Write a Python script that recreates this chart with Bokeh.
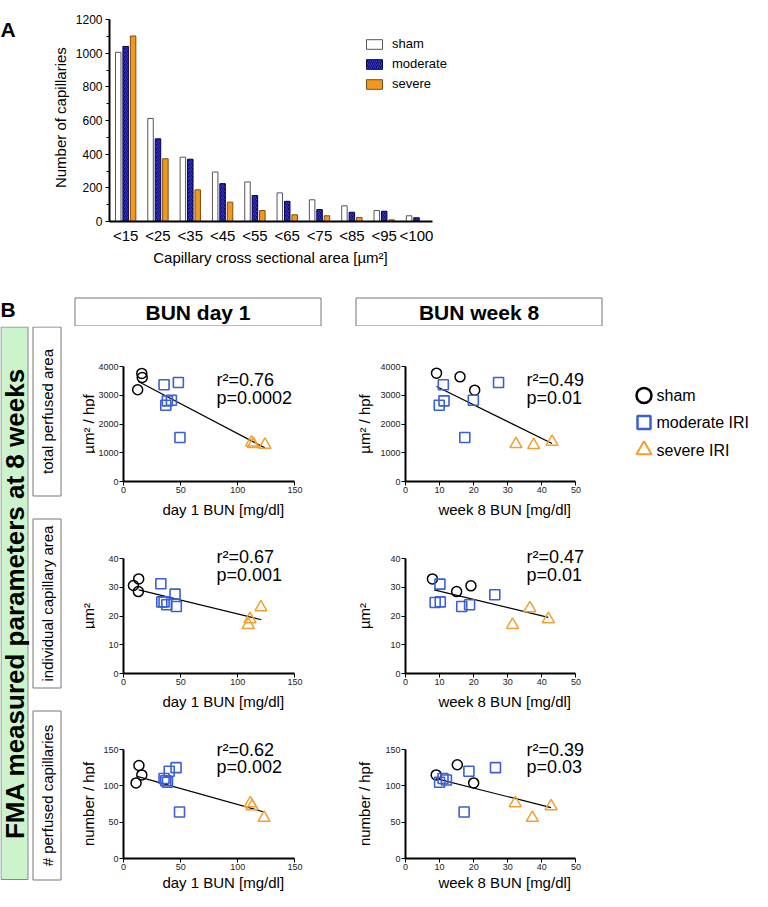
import numpy as np
from bokeh.plotting import figure
from bokeh.models import (ColumnDataSource, Range1d, FixedTicker,
                          SingleIntervalTicker, Legend, LegendItem, Label)
from bokeh.layouts import column, row
from bokeh.transform import dodge
from bokeh.core.properties import value
from bokeh.embed import file_html
from bokeh.resources import INLINE

FONT = "Liberation Sans"
BLUE = "#3a5fd8"
ORANGE = "#f0a030"

# ---------------- Panel A data ----------------
size_bins = ["<15", "<25", "<35", "<45", "<55", "<65", "<75", "<85", "<95", "<100"]
sham_counts = [1005, 612, 382, 294, 235, 170, 129, 93, 65, 34]
moderate_counts = [1040, 491, 370, 225, 154, 120, 71, 55, 61, 22]
severe_counts = [1102, 373, 188, 115, 65, 40, 34, 24, 10, 0]

# ---------------- Panel B data ----------------
# total perfused area vs day 1 BUN
tpa_d1_sham_x = [12.4, 16.0, 16.4]
tpa_d1_sham_y = [3190, 3760, 3617]
tpa_d1_mod_x = [35.5, 48.0, 38.4, 41.9, 37.0, 49.4]
tpa_d1_mod_y = [3363, 3443, 2806, 2828, 2654, 1530]
tpa_d1_sev_x = [112.0, 113.6, 123.7]
tpa_d1_sev_y = [1356, 1300, 1275]
tpa_d1_fit_x = [13.0, 123.7]
tpa_d1_fit_y = [3480, 1170]

# total perfused area vs week 8 BUN
tpa_w8_sham_x = [9.1, 16.0, 20.3]
tpa_w8_sham_y = [3768, 3641, 3176]
tpa_w8_mod_x = [11.1, 11.3, 9.9, 19.9, 27.3, 17.4]
tpa_w8_mod_y = [3363, 2806, 2654, 2828, 3443, 1530]
tpa_w8_sev_x = [32.4, 37.6, 43.0]
tpa_w8_sev_y = [1299, 1264, 1380]
tpa_w8_fit_x = [9.1, 43.0]
tpa_w8_fit_y = [3304, 1322]

# individual capillary area vs day 1 BUN
ica_d1_sham_x = [13.3, 8.7, 13.0]
ica_d1_sham_y = [32.9, 30.6, 28.5]
ica_d1_mod_x = [32.7, 33.5, 35.5, 37.9, 45.1, 46.2]
ica_d1_mod_y = [31.2, 24.9, 24.9, 23.9, 27.6, 23.3]
ica_d1_sev_x = [120.2, 110.7, 109.2]
ica_d1_sev_y = [23.0, 18.9, 16.9]
ica_d1_fit_x = [13.3, 120.5]
ica_d1_fit_y = [29.1, 18.7]

# individual capillary area vs week 8 BUN
ica_w8_sham_x = [7.9, 15.0, 19.2]
ica_w8_sham_y = [32.9, 28.5, 30.5]
ica_w8_mod_x = [10.1, 8.7, 10.2, 16.5, 18.8, 26.2]
ica_w8_mod_y = [31.1, 24.7, 24.9, 23.3, 23.9, 27.4]
ica_w8_sev_x = [31.4, 36.5, 41.9]
ica_w8_sev_y = [16.9, 22.7, 18.9]
ica_w8_fit_x = [8.4, 41.9]
ica_w8_fit_y = [29.1, 19.5]

# number of perfused capillaries vs day 1 BUN
npc_d1_sham_x = [11.0, 13.5, 16.0]
npc_d1_sham_y = [104, 128, 115]
npc_d1_mod_x = [35.5, 37.0, 38.5, 40.0, 46.0, 49.0]
npc_d1_mod_y = [110, 107, 105, 120, 125, 64]
npc_d1_sev_x = [111.0, 112.5, 123.0]
npc_d1_sev_y = [76, 72, 56]
npc_d1_fit_x = [12.0, 123.0]
npc_d1_fit_y = [113, 64]

# number of perfused capillaries vs week 8 BUN
npc_w8_sham_x = [9.0, 15.2, 20.0]
npc_w8_sham_y = [115, 129, 104]
npc_w8_mod_x = [10.0, 11.0, 12.0, 17.2, 18.6, 26.4]
npc_w8_mod_y = [105, 110, 108, 64, 120, 125]
npc_w8_sev_x = [32.2, 37.2, 42.7]
npc_w8_sev_y = [76, 56, 72]
npc_w8_fit_x = [9.0, 42.7]
npc_w8_fit_y = [110, 70]

stats = [("0.76", "0.0002"), ("0.49", "0.01"), ("0.67", "0.001"),
         ("0.47", "0.01"), ("0.62", "0.002"), ("0.39", "0.03")]

row_labels = ["total perfused area", "individual capillary area", "# perfused capillaries"]
y_labels = ["µm² / hpf", "µm²", "number / hpf"]
col_headers = ["BUN day 1", "BUN week 8"]
x_labels = ["day 1 BUN [mg/dl]", "week 8 BUN [mg/dl]"]
group_names = ["sham", "moderate IRI", "severe IRI"]


def canvas(w, h):
    p = figure(width=w, height=h, x_range=Range1d(0, w), y_range=Range1d(h, 0),
               output_backend="svg", toolbar_location=None, tools="", title=None,
               x_axis_type=None, y_axis_type=None, min_border=0)
    p.grid.visible = False
    p.outline_line_color = None
    return p


def put_text(p, x, y, txt, size, bold=False, angle=0.0, align="center", baseline="middle"):
    p.text(x=[x], y=[y], text=[txt], angle=angle, text_font=value(FONT),
           text_font_style="bold" if bold else "normal", text_font_size=size,
           text_align=align, text_baseline=baseline, text_color="black")


def style_axis(ax, tick_size="9px", tick_standoff=1):
    ax.axis_line_width = 2
    ax.axis_line_color = "black"
    ax.major_tick_out = 4
    ax.major_tick_in = 0
    ax.minor_tick_line_color = None
    ax.major_tick_line_color = "black"
    ax.major_label_text_font = FONT
    ax.major_label_text_font_size = tick_size
    ax.major_label_text_color = "#222"
    ax.major_label_standoff = tick_standoff


# ======================= Panel A =======================
decoA = canvas(72, 247)
put_text(decoA, 0, 12, "A", "21px", bold=True, align="left", baseline="alphabetic")
put_text(decoA, 60, 120, "Number of capillaries", "15px", angle=np.pi / 2)

n_bins = len(size_bins)
bin_pos = [i + 0.5 for i in range(n_bins)]
A_FRAME_W = 384          # frame widened to hold the legend; the axis is bounded to the bins
A_PLOT_W = 324
figA = figure(width=680, height=247, x_range=Range1d(0, n_bins * A_FRAME_W / A_PLOT_W),
              y_range=Range1d(0, 1200),
              output_backend="svg", toolbar_location=None, tools="", title=None,
              min_border_left=36, min_border_right=680 - 36 - A_FRAME_W,
              min_border_top=19, min_border_bottom=26)
figA.grid.visible = False
figA.outline_line_color = None
srcA = ColumnDataSource(dict(pos=bin_pos, sham=sham_counts,
                             moderate=moderate_counts, severe=severe_counts))
r_sham = figA.vbar(x=dodge("pos", -0.23), top="sham", width=0.17,
                   source=srcA, fill_color="white", line_color="#555", line_width=1)
r_mod = figA.vbar(x=dodge("pos", 0.0), top="moderate", width=0.17,
                  source=srcA, fill_color="#0d0d8c", line_color="#06064a", line_width=1,
                  hatch_pattern="/", hatch_color="#4848c8", hatch_scale=4, hatch_weight=0.8)
r_sev = figA.vbar(x=dodge("pos", 0.23), top="severe", width=0.17,
                  source=srcA, fill_color="#f5961e", line_color="#7a4f10", line_width=1)

figA.yaxis.ticker = SingleIntervalTicker(interval=200, num_minor_ticks=2)
style_axis(figA.yaxis[0], tick_size="12px", tick_standoff=3)
figA.yaxis.minor_tick_line_color = "black"
figA.yaxis.minor_tick_out = 3
figA.yaxis.minor_tick_in = 0
figA.yaxis.major_label_text_color = "black"
figA.xaxis.ticker = FixedTicker(ticks=bin_pos)
figA.xaxis.major_label_overrides = {pos: lab for pos, lab in zip(bin_pos, size_bins)}
figA.xaxis.bounds = (0, n_bins)
style_axis(figA.xaxis[0], tick_size="15px", tick_standoff=5)
figA.xaxis.major_tick_line_color = None
figA.xaxis.major_tick_out = 0
figA.xaxis.major_label_text_color = "black"

legA = Legend(items=[LegendItem(label="sham", renderers=[r_sham]),
                     LegendItem(label="moderate", renderers=[r_mod]),
                     LegendItem(label="severe", renderers=[r_sev])],
              location=(255, 130), padding=0, margin=0, spacing=5,
              glyph_width=20, glyph_height=12, label_height=12, label_standoff=8,
              label_text_font=FONT, label_text_font_size="13px", label_text_color="black",
              border_line_color=None, background_fill_alpha=0)
figA.add_layout(legA)

xlabA = canvas(752, 35)
put_text(xlabA, 108 + A_PLOT_W / 2, 10, "Capillary cross sectional area [µm²]", "15px")

panelA = column(row(decoA, figA), xlabA)

# ======================= Panel B =======================
headerB = canvas(752, 44)
put_text(headerB, 0, 27, "B", "21px", bold=True, align="left", baseline="alphabetic")
for x0, txt in zip([74, 355], col_headers):
    headerB.quad(left=[x0 + 0.5], right=[x0 + 246.5], top=[15.5], bottom=[43.5],
                 fill_color="white", line_color="#777", line_width=1)
    put_text(headerB, x0 + 123.5, 30, txt, "21px", bold=True)

ROW_H = [192, 192, 181]
PLOT_H = [115, 115, 109]        # pixel height of each plot's data region
FRAME_H = [155, 155, 148]       # frame extends upward to hold the r² / p texts
XLAB_H = [21, 21, 17]
XLAB_Y = [12, 12, 8]
row_tops = [0, 192, 384]
frame_centers = [row_tops[i] + FRAME_H[i] - PLOT_H[i] / 2 for i in range(3)]

decoB = canvas(95, 565)
decoB.quad(left=[0.5], right=[27.5], top=[0.5], bottom=[553],
           fill_color="#ccf4cc", line_color="#888", line_width=1)
put_text(decoB, 14, 277, "FMA measured parameters at 8 weeks", "26px", bold=True, angle=np.pi / 2)
for i, lab in enumerate(row_labels):
    top = 0.5 + 192 * i
    decoB.quad(left=[32.5], right=[60.5], top=[top], bottom=[top + 169],
               fill_color="white", line_color="#777", line_width=1)
    put_text(decoB, 47, top + 84.5, lab, "15px", angle=np.pi / 2)
    put_text(decoB, 87.5, frame_centers[i], y_labels[i], "15px", angle=np.pi / 2)

ylab2 = canvas(35, 565)
for i in range(3):
    put_text(ylab2, 22, frame_centers[i], y_labels[i], "15px", angle=np.pi / 2)


def scatter_panel(w, h, left, frame_w, frame_h, plot_w, plot_h, xmax, ymax, xt, yt,
                  sham, mod, sev, fit, st, lab_dx, lab_dy):
    bottom = h - frame_h
    p = figure(width=w, height=h,
               x_range=Range1d(0, xmax * frame_w / plot_w),
               y_range=Range1d(0, ymax * frame_h / plot_h),
               output_backend="svg", toolbar_location=None, tools="", title=None,
               min_border_left=left, min_border_right=w - left - frame_w,
               min_border_top=0, min_border_bottom=bottom)
    p.grid.visible = False
    p.outline_line_color = None
    p.xaxis.ticker = FixedTicker(ticks=xt)
    p.yaxis.ticker = FixedTicker(ticks=yt)
    p.xaxis.bounds = (0, xmax)
    p.yaxis.bounds = (0, ymax)
    style_axis(p.xaxis[0])
    style_axis(p.yaxis[0])
    p.line(fit[0], fit[1], line_color="black", line_width=1.2)
    p.scatter(sham[0], sham[1], marker="circle", size=10, fill_color=None,
              line_color="black", line_width=1.5)
    p.scatter(mod[0], mod[1], marker="square", size=10, fill_color=None,
              line_color=BLUE, line_width=1.6)
    p.scatter(sev[0], sev[1], marker="triangle", size=12, fill_color=None,
              line_color=ORANGE, line_width=1.5)
    r2, pv = st
    p.add_layout(Label(x=0, y=ymax, x_offset=lab_dx, y_offset=lab_dy[0],
                       text="r²=" + r2, text_font=FONT, text_font_size="18px",
                       text_color="black", text_baseline="alphabetic"))
    p.add_layout(Label(x=0, y=ymax, x_offset=lab_dx, y_offset=lab_dy[1],
                       text="p=" + pv, text_font=FONT, text_font_size="18px",
                       text_color="black", text_baseline="alphabetic"))
    return p


row_yt = [[0, 1000, 2000, 3000, 4000], [0, 10, 20, 30, 40], [0, 50, 100, 150]]
row_ymax = [4000, 40, 150]
row_dy = [(-13, -31), (1.5, -16.5), (0, -17)]
d1_data = [
    ((tpa_d1_sham_x, tpa_d1_sham_y), (tpa_d1_mod_x, tpa_d1_mod_y), (tpa_d1_sev_x, tpa_d1_sev_y), (tpa_d1_fit_x, tpa_d1_fit_y)),
    ((ica_d1_sham_x, ica_d1_sham_y), (ica_d1_mod_x, ica_d1_mod_y), (ica_d1_sev_x, ica_d1_sev_y), (ica_d1_fit_x, ica_d1_fit_y)),
    ((npc_d1_sham_x, npc_d1_sham_y), (npc_d1_mod_x, npc_d1_mod_y), (npc_d1_sev_x, npc_d1_sev_y), (npc_d1_fit_x, npc_d1_fit_y)),
]
w8_data = [
    ((tpa_w8_sham_x, tpa_w8_sham_y), (tpa_w8_mod_x, tpa_w8_mod_y), (tpa_w8_sev_x, tpa_w8_sev_y), (tpa_w8_fit_x, tpa_w8_fit_y)),
    ((ica_w8_sham_x, ica_w8_sham_y), (ica_w8_mod_x, ica_w8_mod_y), (ica_w8_sev_x, ica_w8_sev_y), (ica_w8_fit_x, ica_w8_fit_y)),
    ((npc_w8_sham_x, npc_w8_sham_y), (npc_w8_mod_x, npc_w8_mod_y), (npc_w8_sev_x, npc_w8_sev_y), (npc_w8_fit_x, npc_w8_fit_y)),
]

col_specs = [
    dict(w=247, frame_w=221, plot_w=173, xmax=150, xt=[0, 50, 100, 150], data=d1_data, dx=93),
    dict(w=245, frame_w=219, plot_w=172, xmax=50, xt=[0, 10, 20, 30, 40, 50], data=w8_data, dx=121),
]
columns = []
for c, cs in enumerate(col_specs):
    kids = []
    for i in range(3):
        sh, md, sv, ft = cs["data"][i]
        kids.append(scatter_panel(cs["w"], ROW_H[i] - XLAB_H[i], 26, cs["frame_w"], FRAME_H[i],
                                  cs["plot_w"], PLOT_H[i], cs["xmax"], row_ymax[i],
                                  cs["xt"], row_yt[i], sh, md, sv, ft, stats[2 * i + c],
                                  cs["dx"], row_dy[i]))
        xl = canvas(cs["w"], XLAB_H[i])
        put_text(xl, 26 + cs["plot_w"] / 2, XLAB_Y[i], x_labels[c], "15px")
        kids.append(xl)
    columns.append(column(*kids))

legB = canvas(130, 565)
leg_y = [69, 96, 123.5]
legB.scatter([21.5], [leg_y[0]], marker="circle", size=15, fill_color=None,
             line_color="black", line_width=2.5)
legB.scatter([21.5], [leg_y[1]], marker="square", size=13, fill_color=None,
             line_color=BLUE, line_width=2.5)
legB.scatter([21.5], [leg_y[2]], marker="triangle", size=15, fill_color=None,
             line_color=ORANGE, line_width=2)
legB.text(x=[34, 34, 34], y=leg_y, text=group_names, text_font=value(FONT),
          text_font_size="16px", text_align="left", text_baseline="middle")

panelB = column(headerB, row(decoB, columns[0], ylab2, columns[1], legB))

layout = column(panelA, panelB)

with open("out.html", "w") as f:
    f.write(file_html(layout, INLINE))
